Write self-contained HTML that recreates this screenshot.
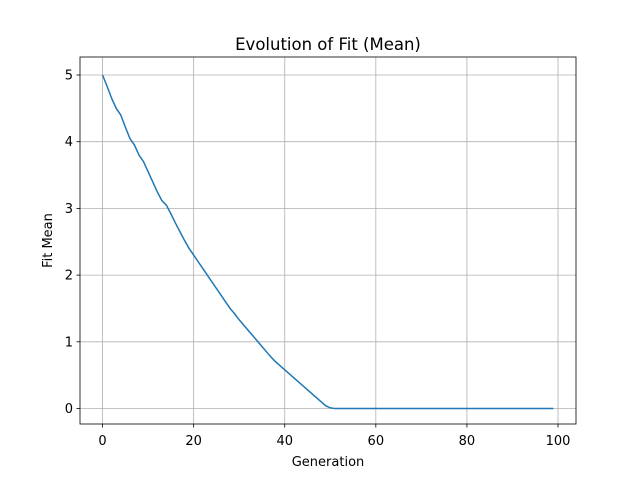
<!DOCTYPE html>
<html><head><meta charset="utf-8"><style>
body{margin:0;background:#fff;}
svg{display:block;font-family:"DejaVu Sans","Liberation Sans",sans-serif;}
</style></head><body>
<svg id="chart" width="640" height="478"></svg>
<script>
const generations = Array.from({length:100},(_, i)=>i);
const fitMean = [5.0,4.83,4.65,4.5,4.4,4.22,4.05,3.95,3.8,3.7,
3.55,3.4,3.25,3.12,3.05,2.92,2.78,2.65,2.52,2.4,
2.3,2.2,2.1,2.0,1.9,1.8,1.7,1.6,1.5,1.42,
1.33,1.25,1.17,1.09,1.01,0.93,0.85,0.77,0.70,0.64,
0.58,0.52,0.46,0.40,0.34,0.28,0.22,0.16,0.1,0.04,
0.01,0,0,0,0,0,0,0,0,0,
0,0,0,0,0,0,0,0,0,0,
0,0,0,0,0,0,0,0,0,0,
0,0,0,0,0,0,0,0,0,0,
0,0,0,0,0,0,0,0,0,0];
const xTicks = [0,20,40,60,80,100];
const yTicks = [0,1,2,3,4,5];

const svg = document.getElementById('chart');
const NS='http://www.w3.org/2000/svg';
const L=80,R=576,T=57,B=424;
const xmin=-4.95,xmax=103.95,ymin=-0.2325,ymax=5.27;
const xs=v=>L+(v-xmin)/(xmax-xmin)*(R-L);
const ys=v=>B-(v-ymin)/(ymax-ymin)*(B-T);
function mk(tag,attrs,name,text){const e=document.createElementNS(NS,tag);for(const k in attrs)e.setAttribute(k,attrs[k]);


if(text!==undefined)e.textContent=text;svg.appendChild(e);return e;}
xTicks.forEach(t=>{const x=xs(t);
mk('line',{x1:x,x2:x,y1:T,y2:B,stroke:'#b0b0b0','stroke-width':0.8},'x-gridline');
mk('line',{x1:x,x2:x,y1:B,y2:B+3.5,stroke:'#000','stroke-width':0.8},'x-tick');
mk('text',{x:x,y:B+21,'font-size':13,'text-anchor':'middle'},'x-tick-label',String(t));});
yTicks.forEach(t=>{const y=ys(t);
mk('line',{x1:L,x2:R,y1:y,y2:y,stroke:'#b0b0b0','stroke-width':0.8},'y-gridline');
mk('line',{x1:L-3.5,x2:L,y1:y,y2:y,stroke:'#000','stroke-width':0.8},'y-tick');
mk('text',{x:L-7,y:y+4.5,'font-size':13,'text-anchor':'end'},'y-tick-label',String(t));});
const pts=generations.map((g,i)=>xs(g).toFixed(2)+','+ys(fitMean[i]).toFixed(2)).join(' ');
mk('polyline',{points:pts,fill:'none',stroke:'#1f77b4','stroke-width':1.5},'fit-mean-line');
mk('rect',{x:L,y:T,width:R-L,height:B-T,fill:'none',stroke:'#000','stroke-width':0.8},'plot-frame');
mk('text',{x:(L+R)/2,y:50,'font-size':16.5,'text-anchor':'middle'},'chart-title','Evolution of Fit (Mean)');
mk('text',{x:(L+R)/2,y:466,'font-size':13,'text-anchor':'middle'},'x-axis-title','Generation');
mk('text',{x:52,y:(T+B)/2,'font-size':13,'text-anchor':'middle',transform:`rotate(-90 52 ${(T+B)/2})`},'y-axis-title','Fit Mean');
</script>
</body></html>
